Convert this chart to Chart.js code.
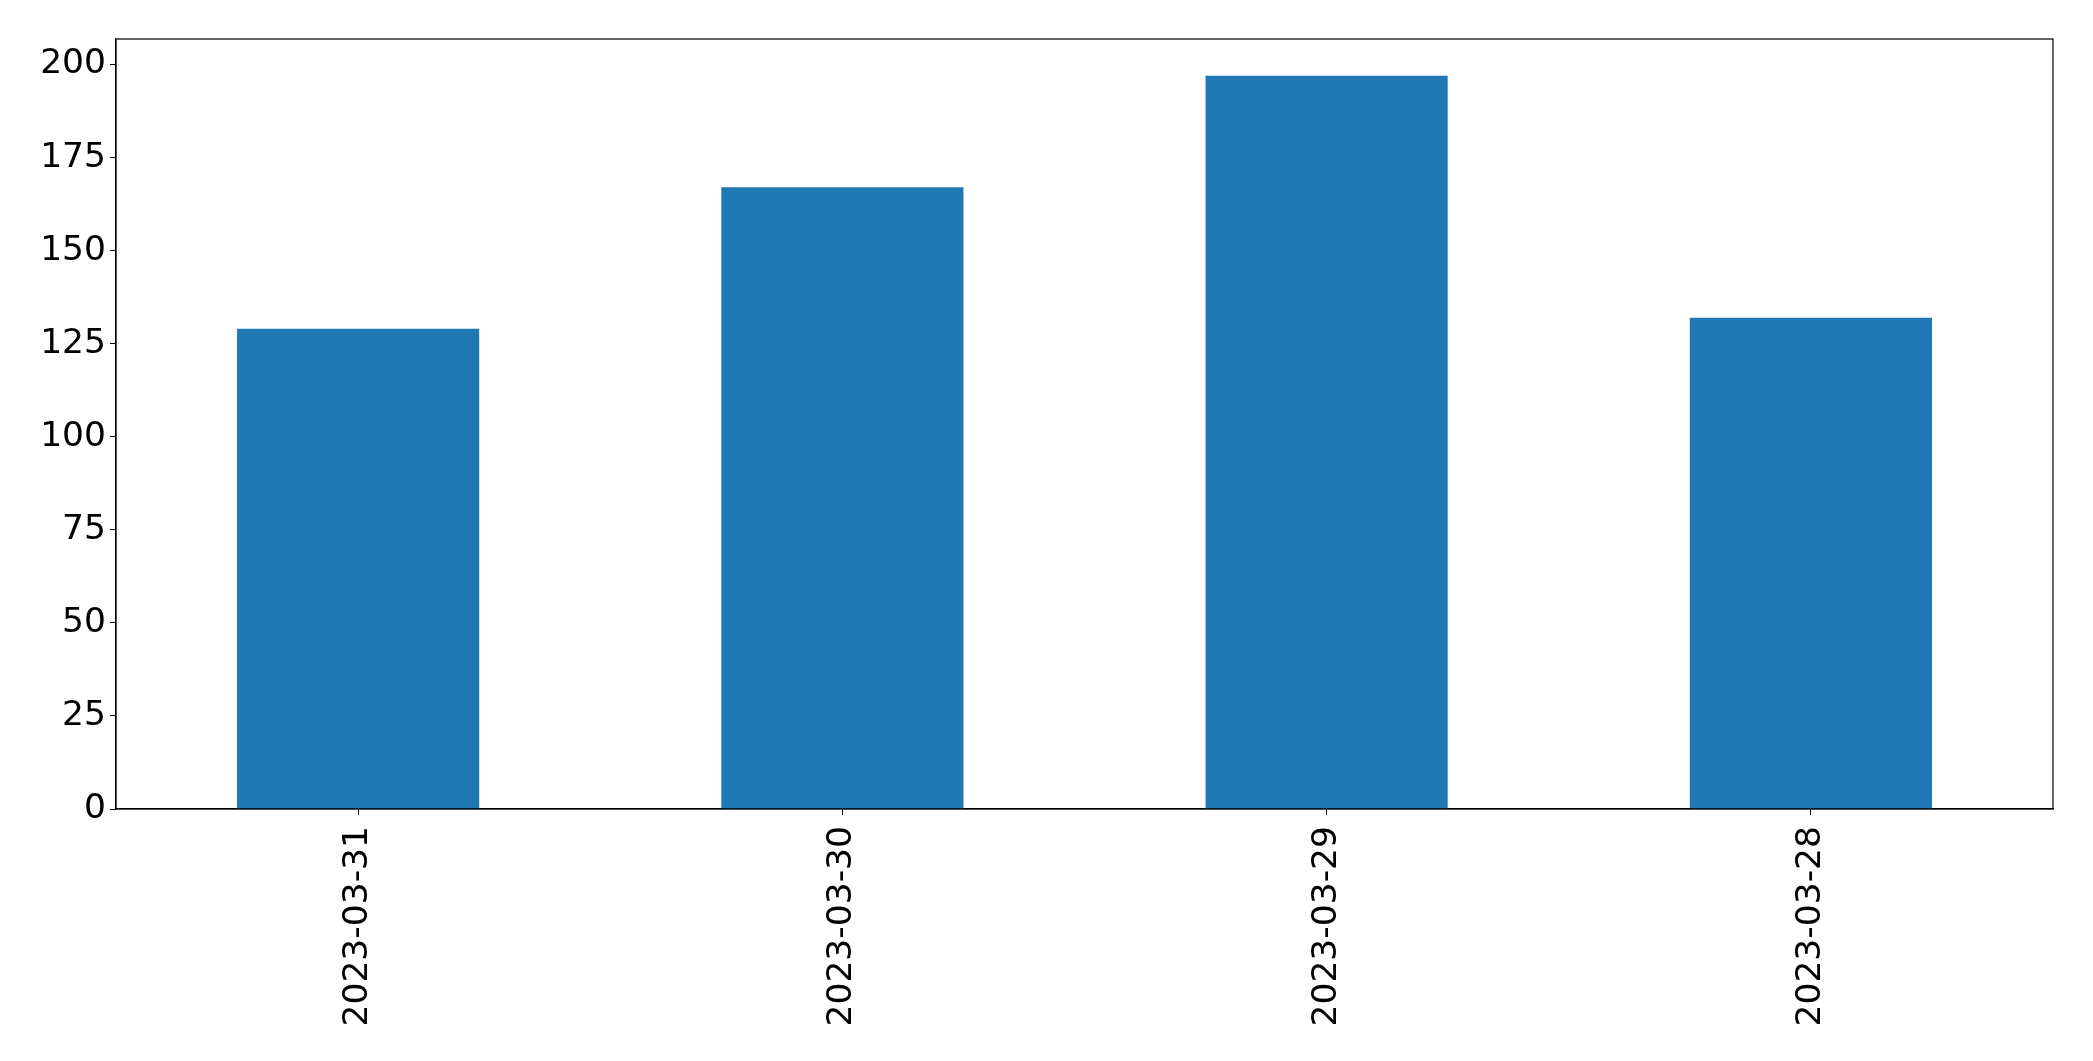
<!DOCTYPE html>
<html>
<head>
<meta charset="utf-8">
<script src="https://cdn.jsdelivr.net/npm/chart.js@4/dist/chart.umd.min.js"></script>
<style>
  html, body { margin: 0; padding: 0; background: #ffffff; }
  #main-chart { display: block; }
</style>
</head>
<body>
<canvas id="main-chart" width="2093" height="1061"></canvas>
<script>
// Data
const dates = ["2023-03-31", "2023-03-30", "2023-03-29", "2023-03-28"];
const counts = [129, 167, 197, 132];
const yTicks = [0, 25, 50, 75, 100, 125, 150, 175, 200];

// Frame round the plot area
const frame = {
  id: "frame",
  afterDraw(chart) {
    const { ctx, chartArea } = chart;
    ctx.save();
    ctx.strokeStyle = "#000000";
    ctx.lineWidth = 1.2;
    ctx.strokeRect(chartArea.left, chartArea.top, chartArea.right - chartArea.left, chartArea.bottom - chartArea.top);
    ctx.restore();
  },
};

const tickFont = { family: "DejaVu Sans", size: 34.5 };

const ctx = document.getElementById("main-chart").getContext("2d");

new Chart(ctx, {
  type: "bar",
  data: {
    labels: dates,
    datasets: [
      {
        data: counts,
        backgroundColor: "#1f77b4",
        borderWidth: 0,
        categoryPercentage: 1,
        barPercentage: 0.5,
      },
    ],
  },
  options: {
    responsive: false,
    animation: false,
    layout: {
      padding: { top: 39, right: 40, left: 0, bottom: 0 },
    },
    plugins: {
      legend: { display: false },
      tooltip: { enabled: false },
    },
    scales: {
      x: {
        grid: {
          offset: false,
          drawOnChartArea: false,
          drawTicks: true,
          tickLength: 6,
          tickColor: "#000000",
        },
        border: { display: true, color: "#000000", width: 1.2 },
        ticks: {
          color: "#000000",
          font: tickFont,
          minRotation: 90,
          maxRotation: 90,
          padding: 11,
        },
        afterFit(scale) {
          scale.height = 252;
        },
      },
      y: {
        min: 0,
        max: 206.85,
        grid: {
          drawOnChartArea: false,
          drawTicks: true,
          tickLength: 6,
          tickColor: "#000000",
        },
        border: { display: true, color: "#000000", width: 1.2 },
        ticks: {
          color: "#000000",
          font: tickFont,
          padding: 4,
        },
        afterBuildTicks(scale) {
          scale.ticks = yTicks.map((v) => ({ value: v }));
        },
        afterFit(scale) {
          scale.width = 116;
        },
      },
    },
  },
  plugins: [frame],
});
</script>
</body>
</html>
